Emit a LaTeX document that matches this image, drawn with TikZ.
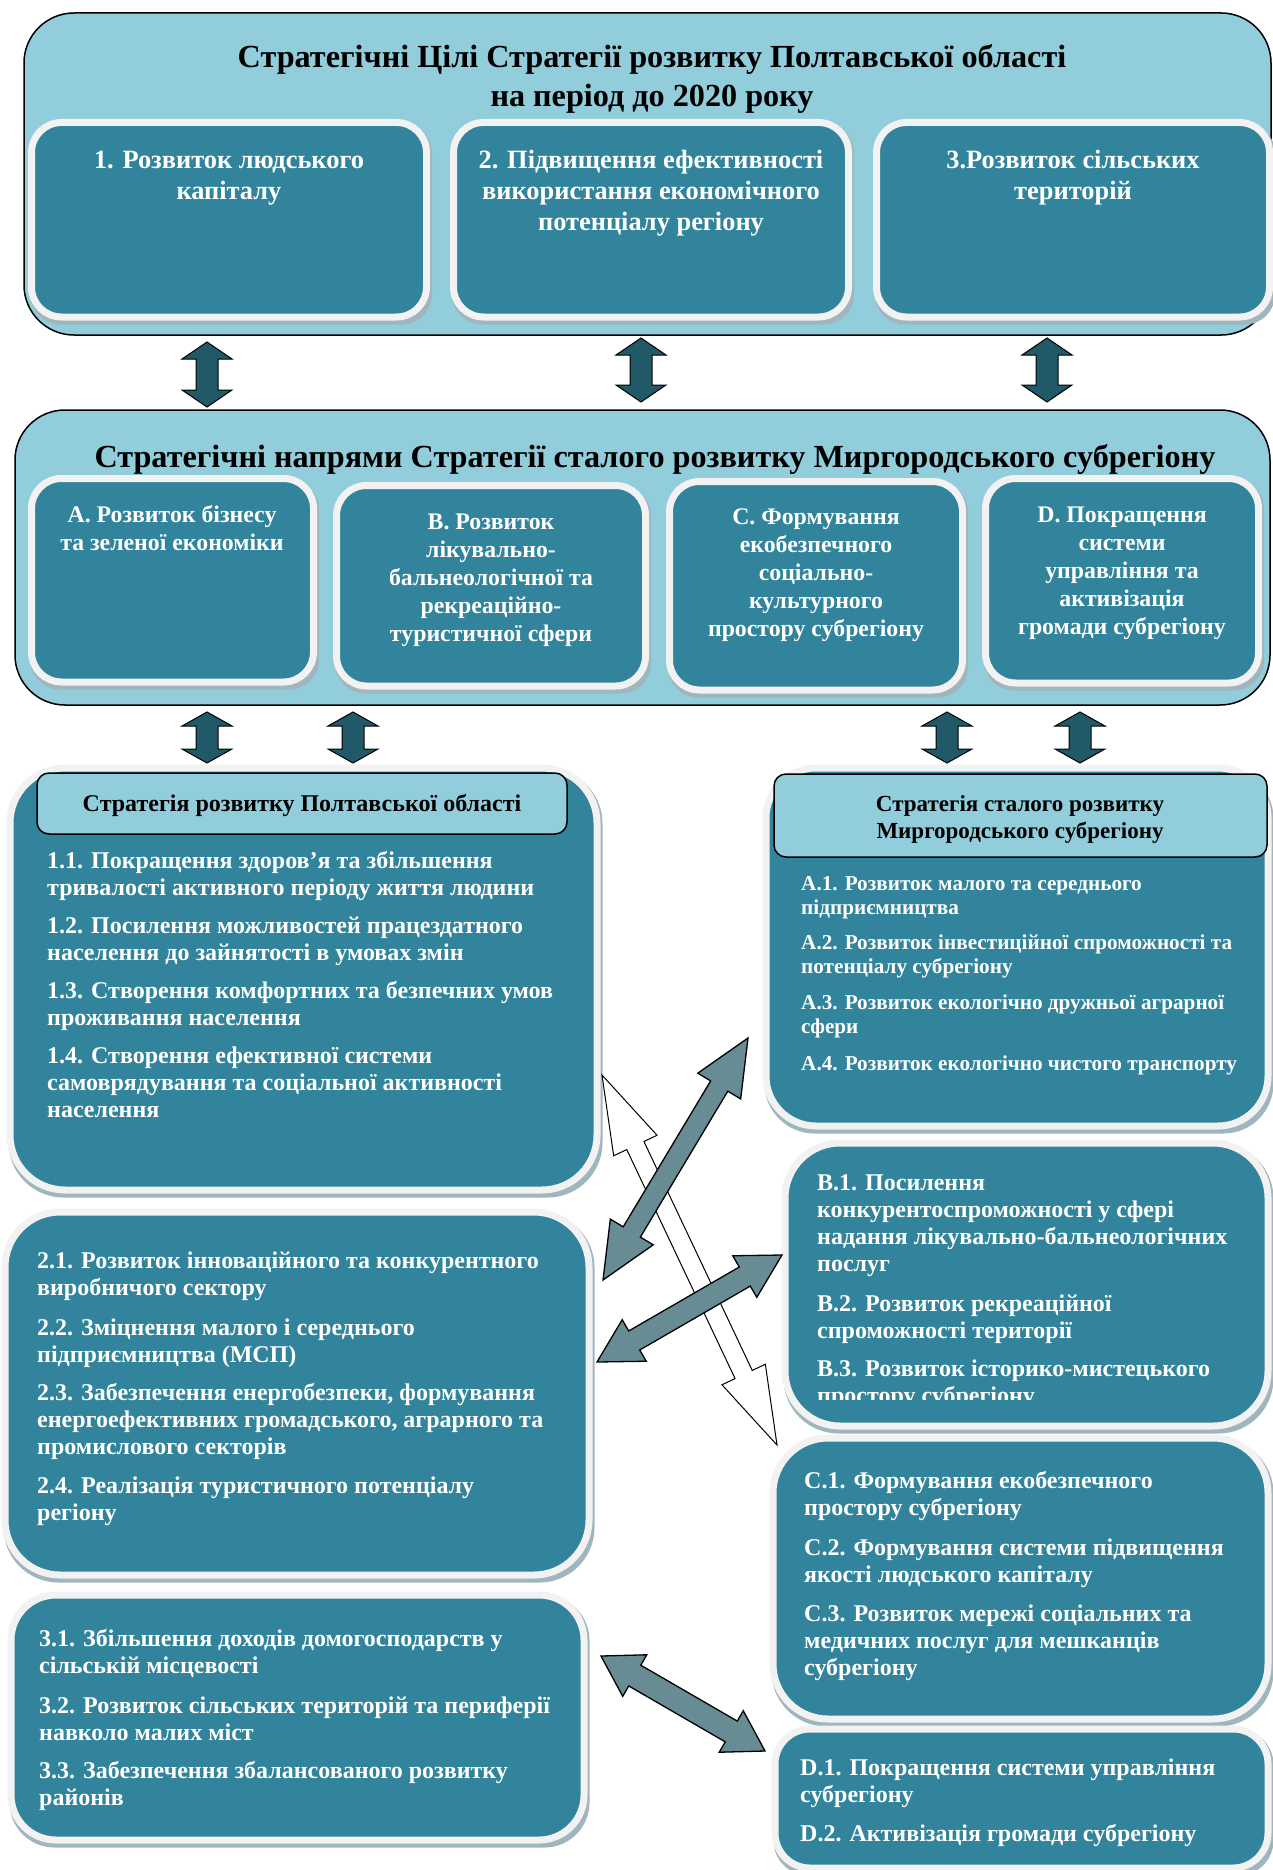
\documentclass[tikz,border=0pt]{standalone}
\usepackage{fontspec}
\setmainfont{Liberation Serif}
\usetikzlibrary{calc}
\definecolor{lightblu}{HTML}{92CDDC}
\definecolor{tealc}{HTML}{31849B}
\definecolor{darkteal}{HTML}{215968}
\definecolor{greyarr}{HTML}{678C94}
\definecolor{rimc}{HTML}{F2F2F2}
\definecolor{shadc}{HTML}{9FB6BF}
\newcommand\fntTitle{\fontsize{32.2}{39}\selectfont\bfseries}
\newcommand\fntTop{\fontsize{26.4}{31}\selectfont\bfseries}
\newcommand\fntDir{\fontsize{23.8}{28}\selectfont\bfseries}
\newcommand\fntItem{\fontsize{24}{27}\selectfont\bfseries}
\newcommand\fntA{\fontsize{21.2}{24.5}\selectfont\bfseries}
\newcommand\fntHeadL{\fontsize{24}{27}\selectfont\bfseries}
\newcommand\fntHeadR{\fontsize{23}{27}\selectfont\bfseries}
% double block arrow: #1 style, #2 from, #3 to, #4 shaft half width, #5 head half width, #6 head length
\newcommand\dblarrow[6]{%
  \coordinate (ha) at ($(#2)!#6pt!(#3)$);
  \coordinate (hb) at ($(#3)!#6pt!(#2)$);
  \draw[#1] (#2) -- ($(ha)!#5pt!90:(#3)$) -- ($(ha)!#4pt!90:(#3)$)
    -- ($(hb)!#4pt!-90:(#2)$) -- ($(hb)!#5pt!-90:(#2)$) -- (#3)
    -- ($(hb)!#5pt!90:(#2)$) -- ($(hb)!#4pt!90:(#2)$)
    -- ($(ha)!#4pt!-90:(#3)$) -- ($(ha)!#5pt!-90:(#3)$) -- cycle;}
% panel: x1 y1 x2 y2 radius
\newcommand\panelbox[5]{%
  \fill[shadc, rounded corners=#5pt] (#1-1.5,#2+0.5) rectangle (#3+5.5,#4+7.5);
  \draw[panel, rounded corners=#5pt] (#1,#2) rectangle (#3,#4);}
\begin{document}
\begin{tikzpicture}[x=1pt,y=-1pt,
  outerbox/.style={fill=lightblu, draw=black, line width=1.5pt, rounded corners=50pt},
  panel/.style={fill=tealc, draw=rimc, line width=7pt},
  headbox/.style={fill=lightblu, draw=black, line width=1.5pt, rounded corners=12pt},
  titletxt/.style={anchor=north, inner sep=0pt, align=center, font=\fntTitle},
  toptxt/.style={anchor=north, inner sep=0pt, align=center, text=white, font=\fntTop},
  dirtxt/.style={anchor=north, inner sep=0pt, align=center, text=white, font=\fntDir},
  itemtxt/.style={anchor=north west, inner sep=0pt, align=left, text=white, font=\fntItem},
  atxt/.style={anchor=north west, inner sep=0pt, align=left, text=white, font=\fntA},
  headtxt/.style={anchor=north, inner sep=0pt, align=center},
  varrow/.style={fill=darkteal, draw=black, line width=1pt},
  garrow/.style={fill=greyarr, draw=black, line width=1.3pt},
  warrow/.style={fill=white, draw=black, line width=1pt}]
\useasboundingbox (0,0) rectangle (1273,1870);
\fill[white] (0,0) rectangle (1273,1870);

% ---------- top block ----------
\draw[outerbox] (24,13) rectangle (1271,335);
\node[titletxt] (t1) at (652,40) {\strut Стратегічні Цілі Стратегії розвитку Полтавської області\\на період до 2020 року};
\panelbox{31.5}{122.5}{426.5}{317}{30}
\panelbox{453.5}{122.5}{848.5}{317}{30}
\panelbox{876.5}{122.5}{1269.5}{317}{30}
\node[toptxt] (g1) at (229,147) {\strut 1. Розвиток людського\\капіталу};
\node[toptxt] (g2) at (651,147) {\strut 2. Підвищення ефективності\\використання економічного\\потенціалу регіону};
\node[toptxt] (g3) at (1073,147) {\strut 3.Розвиток сільських\\територій};

% ---------- arrows top -> directions ----------
\coordinate (v1a) at (207,342); \coordinate (v1b) at (207,407);
\coordinate (v2a) at (641,338); \coordinate (v2b) at (641,402);
\coordinate (v3a) at (1047,338); \coordinate (v3b) at (1047,402);
\dblarrow{varrow}{v1a}{v1b}{11}{25}{17}
\dblarrow{varrow}{v2a}{v2b}{11}{25}{17}
\dblarrow{varrow}{v3a}{v3b}{11}{25}{17}

% ---------- directions block ----------
\draw[outerbox] (15,410) rectangle (1270,705);
\node[titletxt] (t2) at (655,440) {\strut Стратегічні напрями Стратегії сталого розвитку Миргородського субрегіону};
\panelbox{31.5}{478.5}{313.5}{682}{30}
\panelbox{336.5}{485.5}{645.5}{686}{30}
\panelbox{669.5}{481.5}{962.5}{690}{30}
\panelbox{985.5}{478.5}{1258.5}{683}{30}
\node[dirtxt] (dA) at (172,503) {\strut A. Розвиток бізнесу\\та зеленої економіки};
\node[dirtxt] (dB) at (491,510) {\strut B. Розвиток\\лікувально-\\бальнеологічної та\\рекреаційно-\\туристичної сфери};
\node[dirtxt] (dC) at (816,505) {\strut C. Формування\\екобезпечного\\соціально-\\культурного\\простору субрегіону};
\node[dirtxt] (dD) at (1122,503) {\strut D. Покращення\\системи\\управління та\\активізація\\громади субрегіону};

% ---------- arrows directions -> strategies ----------
\coordinate (w1a) at (207,712); \coordinate (w1b) at (207,763);
\coordinate (w2a) at (353,712); \coordinate (w2b) at (353,763);
\coordinate (w3a) at (947,712); \coordinate (w3b) at (947,763);
\coordinate (w4a) at (1080,712); \coordinate (w4b) at (1080,763);
\dblarrow{varrow}{w1a}{w1b}{11}{25}{14}
\dblarrow{varrow}{w2a}{w2b}{11}{25}{14}
\dblarrow{varrow}{w3a}{w3b}{11}{25}{14}
\dblarrow{varrow}{w4a}{w4b}{11}{25}{14}

% ---------- left column ----------
\panelbox{10}{768}{597}{1190}{55}
\draw[headbox] (37,773) rectangle (567,834);
\node[headtxt, font=\fntHeadL] (hL) at (302,792) {\strut Стратегія розвитку Полтавської області};
\node[itemtxt] (i11) at (47,849) {\strut 1.1. Покращення здоров’я та збільшення\\тривалості активного періоду життя людини};
\node[itemtxt] (i12) at (47,914) {\strut 1.2. Посилення можливостей працездатного\\населення до зайнятості в умовах змін};
\node[itemtxt] (i13) at (47,979) {\strut 1.3. Створення комфортних та безпечних умов\\проживання населення};
\node[itemtxt] (i14) at (47,1044) {\strut 1.4. Створення ефективної системи\\самоврядування та соціальної активності\\населення};

\panelbox{5}{1212}{589}{1575}{55}
\node[itemtxt] (i21) at (37,1249) {\strut 2.1. Розвиток інноваційного та конкурентного\\виробничого сектору};
\node[itemtxt] (i22) at (37,1316) {\strut 2.2. Зміцнення малого і середнього\\підприємництва (МСП)};
\node[itemtxt] (i23) at (37,1381) {\strut 2.3. Забезпечення енергобезпеки, формування\\енергоефективних громадського, аграрного та\\промислового секторів};
\node[itemtxt] (i24) at (37,1474) {\strut 2.4. Реалізація туристичного потенціалу\\регіону};

\panelbox{11}{1595}{584}{1840}{45}
\node[itemtxt] (i31) at (39,1627) {\strut 3.1. Збільшення доходів домогосподарств у\\сільській місцевості};
\node[itemtxt] (i32) at (39,1694) {\strut 3.2. Розвиток сільських територій та периферії\\навколо малих міст};
\node[itemtxt] (i33) at (39,1759) {\strut 3.3. Забезпечення збалансованого розвитку\\районів};

% ---------- right column ----------
\panelbox{766}{768}{1268}{1126}{50}
\draw[headbox] (774,774) rectangle (1267,857);
\node[headtxt, font=\fntHeadR] (hR) at (1020,792) {\strut Стратегія сталого розвитку\\Миргородського субрегіону};
\node[atxt] (a1) at (801,873) {\strut A.1. Розвиток малого та середнього\\підприємництва};
\node[atxt] (a2) at (801,932) {\strut A.2. Розвиток інвестиційної спроможності та\\потенціалу субрегіону};
\node[atxt] (a3) at (801,992) {\strut A.3. Розвиток екологічно дружньої аграрної\\сфери};
\node[atxt] (a4) at (801,1053) {\strut A.4. Розвиток екологічно чистого транспорту};

\panelbox{785}{1143}{1268}{1426}{55}
\node[itemtxt] (b1) at (817,1171) {\strut B.1. Посилення\\конкурентоспроможності у сфері\\надання лікувально-бальнеологічних\\послуг};
\node[itemtxt] (b2) at (817,1292) {\strut B.2. Розвиток рекреаційної\\спроможності території};
\begin{scope}
\clip (780,1300) rectangle (1273,1399);
\node[itemtxt] (b3) at (817,1357) {\strut B.3. Розвиток історико-мистецького\\простору субрегіону};
\end{scope}

\panelbox{773}{1438}{1268}{1719}{55}
\node[itemtxt] (c1) at (804,1469) {\strut C.1. Формування екобезпечного\\простору субрегіону};
\node[itemtxt] (c2) at (804,1536) {\strut C.2. Формування системи підвищення\\якості людського капіталу};
\node[itemtxt] (c3) at (804,1602) {\strut C.3. Розвиток мережі соціальних та\\медичних послуг для мешканців\\субрегіону};

\panelbox{775}{1729}{1268}{1868}{35}
\node[itemtxt] (e1) at (800,1756) {\strut D.1. Покращення системи управління\\субрегіону};
\node[itemtxt] (e2) at (800,1822) {\strut D.2. Активізація громади субрегіону};

% ---------- cross arrows ----------
\coordinate (x1a) at (602,1075); \coordinate (x1b) at (777,1445);
\dblarrow{warrow}{x1a}{x1b}{9.5}{24}{78}
\coordinate (x2a) at (748,1038); \coordinate (x2b) at (603,1280);
\dblarrow{garrow}{x2a}{x2b}{10}{25}{56}
\coordinate (x3a) at (782,1255); \coordinate (x3b) at (597,1362);
\dblarrow{garrow}{x3a}{x3b}{11}{24}{43}
\coordinate (x4a) at (601,1656); \coordinate (x4b) at (765,1751);
\dblarrow{garrow}{x4a}{x4b}{12}{24}{39}
\end{tikzpicture}
\end{document}
